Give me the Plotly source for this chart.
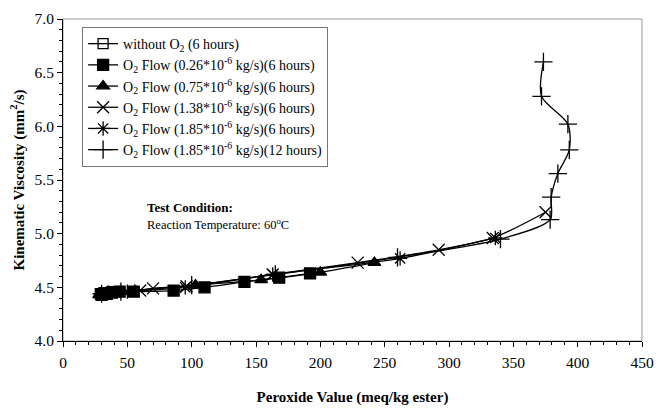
import plotly.graph_objects as go

# ---- data ----
noO2_x = [29, 32, 35, 38, 41]
noO2_y = [4.44, 4.45, 4.45, 4.46, 4.46]

f026_x = [30, 34, 38, 44, 55, 86, 110, 141, 168, 192]
f026_y = [4.43, 4.44, 4.45, 4.46, 4.46, 4.47, 4.50, 4.55, 4.59, 4.63]

f075_x = [28, 33, 38, 45, 103, 154, 200, 242]
f075_y = [4.43, 4.44, 4.45, 4.46, 4.52, 4.57, 4.64, 4.73]

f138_x = [32, 40, 60, 70, 96, 163, 229, 292, 334, 375]
f138_y = [4.44, 4.46, 4.47, 4.49, 4.51, 4.62, 4.73, 4.85, 4.96, 5.20]

f185_x = [35, 50, 95, 163, 262, 336]
f185_y = [4.45, 4.46, 4.50, 4.62, 4.77, 4.96]

f185_12_x = [30, 45, 100, 165, 260, 340, 378.6, 379.4, 384.6, 393.5, 392.4, 371.9, 373.4]
f185_12_y = [4.44, 4.46, 4.52, 4.62, 4.78, 4.95, 5.13, 5.34, 5.56, 5.78, 6.02, 6.28, 6.60]

names = [
    "without O<sub>2</sub> (6 hours)",
    "O<sub>2</sub> Flow (0.26*10<sup>-6</sup> kg/s)(6 hours)",
    "O<sub>2</sub> Flow (0.75*10<sup>-6</sup> kg/s)(6 hours)",
    "O<sub>2</sub> Flow (1.38*10<sup>-6</sup> kg/s)(6 hours)",
    "O<sub>2</sub> Flow (1.85*10<sup>-6</sup> kg/s)(6 hours)",
    "O<sub>2</sub> Flow (1.85*10<sup>-6</sup> kg/s)(12 hours)",
]
xs = [noO2_x, f026_x, f075_x, f138_x, f185_x, f185_12_x]
ys = [noO2_y, f026_y, f075_y, f138_y, f185_y, f185_12_y]
symbols = ["square-open", "square", "triangle-up", "x-thin-open", "asterisk-open", "cross-thin-open"]
sizes = [10, 11, 11, 12, 12, 13]

FONT = "Liberation Serif, Times New Roman, serif"

fig = go.Figure()
for x, y, n, s, sz in zip(xs, ys, names, symbols, sizes):
    fig.add_trace(go.Scatter(
        x=x, y=y, name=n, mode="lines+markers",
        line=dict(color="black", width=1.3, shape="spline", smoothing=0.8),
        marker=dict(symbol=s, size=sz, color="black",
                    line=dict(color="black", width=1.3)),
    ))

fig.add_annotation(x=64, y=5.24, xref="x", yref="y", xanchor="left", showarrow=False,
                   text="<b>Test Condition:</b>", font=dict(family=FONT, size=13, color="black"))
fig.add_annotation(x=64, y=5.09, xref="x", yref="y", xanchor="left", showarrow=False,
                   text="Reaction Temperature: 60<sup>o</sup>C", font=dict(family=FONT, size=12.5, color="black"))

fig.add_shape(type="rect", xref="paper", yref="paper", x0=0, y0=0, x1=1, y1=1,
              line=dict(color="#9a9a9a", width=1), layer="below")

fig.update_layout(
    width=660, height=408,
    margin=dict(l=63, r=18, t=19, b=67),
    paper_bgcolor="white", plot_bgcolor="white",
    font=dict(family=FONT, size=15, color="black"),
    showlegend=True,
    legend=dict(x=0.033, y=0.975, xanchor="left", yanchor="top",
                bordercolor="#777", borderwidth=1, bgcolor="white",
                font=dict(family=FONT, size=14), tracegroupgap=0,
                itemwidth=30),
    xaxis=dict(range=[0, 450], tickvals=list(range(0, 451, 50)), showgrid=False, zeroline=False,
               showline=True, linecolor="black", linewidth=1, ticks="outside", ticklen=5,
               tickcolor="black", ticklabelstandoff=2, automargin=False,
               minor=dict(dtick=10, ticks="outside", ticklen=3, tickcolor="black", showgrid=False),
               title=dict(text="<b>Peroxide Value (meq/kg ester)</b>", font=dict(family=FONT, size=15), standoff=21),
               tickfont=dict(family=FONT, size=15.5)),
    yaxis=dict(range=[4.0, 7.0], tickvals=[4.0, 4.5, 5.0, 5.5, 6.0, 6.5, 7.0], tickformat=".1f",
               showgrid=False, zeroline=False, automargin=False,
               showline=True, linecolor="black", linewidth=1, ticks="outside", ticklen=5,
               tickcolor="black",
               minor=dict(dtick=0.1, ticks="outside", ticklen=3, tickcolor="black", showgrid=False),
               title=dict(text="<b>Kinematic Viscosity (mm<sup>2</sup>/s)</b>", font=dict(family=FONT, size=15), standoff=6),
               tickfont=dict(family=FONT, size=15.5)),
)

fig.write_html("out.html")
